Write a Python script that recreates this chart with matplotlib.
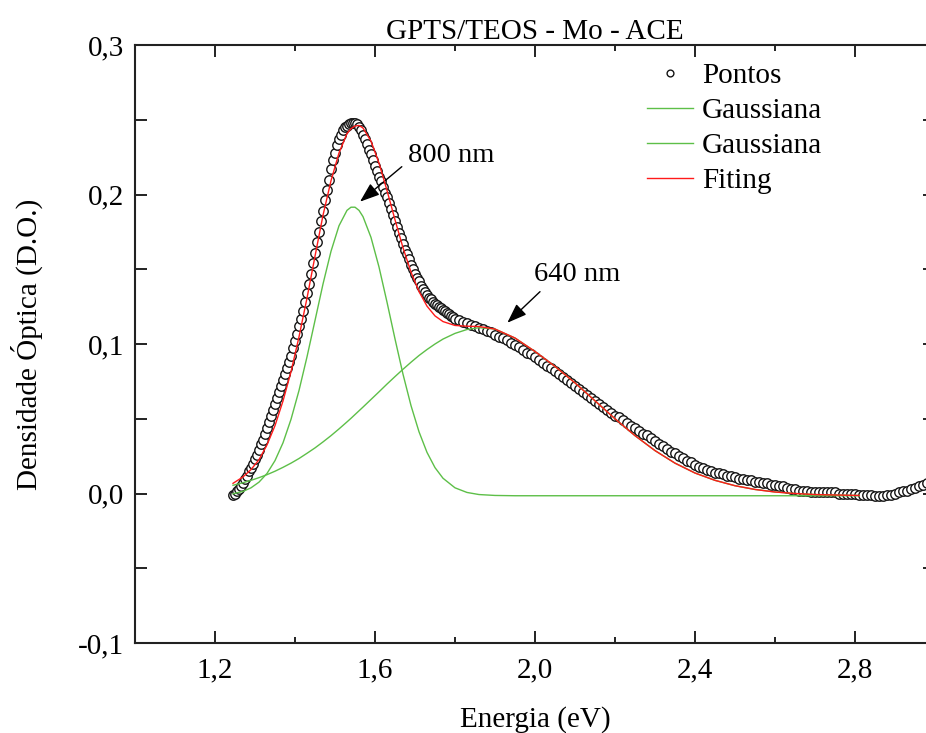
import matplotlib
matplotlib.use("Agg")
import matplotlib.pyplot as plt
import numpy as np
from matplotlib.ticker import MultipleLocator, FuncFormatter

# --- measured optical density (open circles) ---
# dense part of the spectrum, 1.245 .. 1.800 eV every 0.005 eV
energy_peak = np.round(np.arange(1.245, 1.8001, 0.005), 3)
do_peak = [
    -0.001, 0.000, 0.002, 0.003, 0.005, 0.007, 0.010, 0.012, 0.015, 0.017,
    0.020, 0.023, 0.026, 0.029, 0.033, 0.036, 0.040, 0.044, 0.048, 0.052,
    0.056, 0.060, 0.064, 0.068, 0.072, 0.076, 0.080, 0.084, 0.088, 0.092,
    0.097, 0.102, 0.107, 0.112, 0.117, 0.122, 0.128, 0.134, 0.140, 0.147,
    0.154, 0.161, 0.168, 0.175, 0.182, 0.189, 0.196, 0.203, 0.210, 0.217,
    0.223, 0.228, 0.233, 0.237, 0.240, 0.243, 0.245, 0.246, 0.247, 0.248,
    0.248, 0.248, 0.247, 0.245, 0.243, 0.240, 0.237, 0.234, 0.230, 0.227,
    0.223, 0.219, 0.216, 0.212, 0.209, 0.205, 0.201, 0.198, 0.194, 0.190,
    0.186, 0.182, 0.178, 0.174, 0.171, 0.167, 0.163, 0.160, 0.157, 0.153,
    0.150, 0.147, 0.144, 0.142, 0.139, 0.137, 0.135, 0.133, 0.131, 0.130,
    0.128, 0.127, 0.126, 0.125, 0.124, 0.123, 0.122, 0.121, 0.120, 0.119,
    0.118, 0.117,
]
# shoulder and tail, 1.81 .. 2.99 eV every 0.01 eV
energy_tail = np.round(np.arange(1.81, 2.9901, 0.01), 2)
do_tail = [
    0.116, 0.115, 0.114, 0.113, 0.112, 0.111, 0.110, 0.109, 0.108, 0.106,
    0.105, 0.104, 0.103, 0.101, 0.099, 0.098, 0.096, 0.094, 0.093, 0.091,
    0.089, 0.087, 0.085, 0.084, 0.082, 0.080, 0.078, 0.076, 0.074, 0.072,
    0.070, 0.068, 0.066, 0.064, 0.062, 0.060, 0.058, 0.056, 0.054, 0.052,
    0.051, 0.049, 0.047, 0.045, 0.044, 0.042, 0.040, 0.039, 0.037, 0.035,
    0.033, 0.032, 0.030, 0.028, 0.027, 0.025, 0.024, 0.022, 0.021, 0.019,
    0.018, 0.017, 0.016, 0.015, 0.014, 0.014, 0.013, 0.012, 0.012, 0.011,
    0.010, 0.010, 0.009, 0.009, 0.008, 0.008, 0.007, 0.007, 0.006, 0.006,
    0.005, 0.005, 0.004, 0.003, 0.003, 0.002, 0.002, 0.002, 0.001, 0.001,
    0.001, 0.001, 0.001, 0.001, 0.001, 0.000, 0.000, 0.000, 0.000, 0.000,
    -0.001, -0.001, -0.001, -0.001, -0.002, -0.002, -0.002, -0.001, -0.001, 0.000,
    0.001, 0.002, 0.002, 0.003, 0.004, 0.005, 0.006, 0.007, 0.008,
]

# --- fitted curves ---
fit_energy = [
    1.245, 1.27, 1.29, 1.31, 1.33, 1.35, 1.37, 1.39, 1.41, 1.43,
    1.45, 1.47, 1.49, 1.51, 1.53, 1.54, 1.55, 1.56, 1.57, 1.59,
    1.61, 1.63, 1.65, 1.67, 1.69, 1.71, 1.73, 1.75, 1.77, 1.80,
    1.83, 1.86, 1.90, 1.95, 2.00, 2.05, 2.10, 2.15, 2.20, 2.25,
    2.30, 2.35, 2.40, 2.45, 2.50, 2.55, 2.60, 2.65, 2.70, 2.75,
    2.81,
]
gauss_800 = [
    -0.0002, 0.0014, 0.0038, 0.0076, 0.0134, 0.0220, 0.0339, 0.0496, 0.0689, 0.0914,
    0.1157, 0.1401, 0.1620, 0.1791, 0.1894, 0.1915, 0.1915, 0.1894, 0.1852, 0.1713,
    0.1515, 0.1280, 0.1034, 0.0798, 0.0588, 0.0413, 0.0275, 0.0173, 0.0102, 0.0038,
    0.0007, -0.0007, -0.0013, -0.0015, -0.0015, -0.0015, -0.0015, -0.0015, -0.0015, -0.0015,
    -0.0015, -0.0015, -0.0015, -0.0015, -0.0015, -0.0015, -0.0015, -0.0015, -0.0015, -0.0015,
    -0.0015,
]
gauss_640 = [
    0.0055, 0.0072, 0.0088, 0.0106, 0.0126, 0.0149, 0.0175, 0.0203, 0.0234, 0.0269,
    0.0305, 0.0345, 0.0387, 0.0432, 0.0479, 0.0503, 0.0528, 0.0553, 0.0578, 0.0629,
    0.0680, 0.0732, 0.0782, 0.0831, 0.0878, 0.0923, 0.0963, 0.1000, 0.1033, 0.1071,
    0.1097, 0.1109, 0.1100, 0.1040, 0.0950, 0.0850, 0.0740, 0.0620, 0.0500, 0.0387,
    0.0287, 0.0203, 0.0137, 0.0088, 0.0052, 0.0027, 0.0010, 0.0000, -0.0007, -0.0010,
    -0.0013,
]
fitting = [
    0.0068, 0.0111, 0.0160, 0.0226, 0.0325, 0.0454, 0.0619, 0.0814, 0.1048, 0.1307,
    0.1587, 0.1861, 0.2092, 0.2278, 0.2408, 0.2440, 0.2458, 0.2462, 0.2445, 0.2357,
    0.2210, 0.2027, 0.1831, 0.1644, 0.1481, 0.1351, 0.1253, 0.1188, 0.1150, 0.1124,
    0.1119, 0.1117, 0.1100, 0.1040, 0.0950, 0.0850, 0.0740, 0.0620, 0.0500, 0.0387,
    0.0287, 0.0203, 0.0137, 0.0088, 0.0052, 0.0027, 0.0010, 0.0000, -0.0007, -0.0010,
    -0.0013,
]

GREEN = "#5dbf48"
RED = "#ff1a1a"
FONT_SIZE = 21


def comma_fmt(v, _pos):
    """Portuguese decimal comma, one decimal."""
    if abs(v) < 1e-9:
        v = 0.0
    return f"{v:.1f}".replace(".", ",")


def plot_spectrum():
    plt.rcParams["font.family"] = ["Liberation Serif", "DejaVu Serif"]

    fig = plt.figure(figsize=(9.26, 7.33), dpi=100)
    # right spine sits just past the picture edge, like the original export
    ax = fig.add_axes([135 / 926, 90 / 733, 800 / 926, 598 / 733])

    energy = np.concatenate([energy_peak, energy_tail])
    density = np.array(do_peak + do_tail)

    ax.plot(energy, density, linestyle="none", marker="o", markersize=6.8,
            markerfacecolor="white", markeredgecolor="#151515",
            markeredgewidth=1.0, label="Pontos", zorder=2)
    ax.plot(fit_energy, gauss_800, color=GREEN, lw=1.0, label="Gaussiana", zorder=3)
    ax.plot(fit_energy, gauss_640, color=GREEN, lw=1.0, label="Gaussiana", zorder=3)
    ax.plot(fit_energy, fitting, color=RED, lw=1.0, label="Fiting", zorder=4)

    ax.set_xlim(1.0, 3.0)
    ax.set_ylim(-0.1, 0.3)
    ax.xaxis.set_major_locator(MultipleLocator(0.4))
    ax.xaxis.set_minor_locator(MultipleLocator(0.2))
    ax.yaxis.set_major_locator(MultipleLocator(0.1))
    ax.yaxis.set_minor_locator(MultipleLocator(0.05))
    ax.xaxis.set_major_formatter(FuncFormatter(comma_fmt))
    ax.yaxis.set_major_formatter(FuncFormatter(comma_fmt))

    ax.tick_params(which="both", direction="in", top=True, right=True,
                   width=1.4, labelsize=FONT_SIZE, color="#222222")
    ax.tick_params(which="major", length=8.5)
    ax.tick_params(axis="y", which="major", pad=8)
    ax.tick_params(axis="x", which="major", pad=10.5)
    ax.tick_params(axis="x", which="minor", length=4.5)
    ax.tick_params(axis="y", which="minor", length=8.5)
    for sp in ax.spines.values():
        sp.set_linewidth(1.5)
        sp.set_color("#222222")

    ax.set_xlabel("Energia (eV)", fontsize=FONT_SIZE, labelpad=16)
    ax.set_ylabel("Densidade Óptica (D.O.)", fontsize=FONT_SIZE, labelpad=25)
    ax.set_title("GPTS/TEOS - Mo - ACE", fontsize=FONT_SIZE, pad=4)

    # peak labels with arrows
    arrow = dict(arrowstyle="-|>,head_length=0.6,head_width=0.22",
                 color="black", lw=1.0, mutation_scale=20,
                 shrinkA=0, shrinkB=0)
    ax.text(1.79, 0.2258, "800 nm", fontsize=20.5, ha="center", va="center")
    ax.annotate("", xy=(1.5625, 0.1952), xytext=(1.667, 0.2186), arrowprops=arrow)
    ax.text(2.106, 0.1468, "640 nm", fontsize=20.5, ha="center", va="center")
    ax.annotate("", xy=(1.9308, 0.1142), xytext=(2.0125, 0.135), arrowprops=arrow)

    ax.legend(loc="upper left", bbox_to_anchor=(0.64, 0.97), frameon=False,
              fontsize=FONT_SIZE, handlelength=1.58, handletextpad=0.3,
              labelspacing=0.29, borderpad=0, borderaxespad=0, markerscale=0.72)

    fig.savefig("out.png", dpi=100)


if __name__ == "__main__":
    plot_spectrum()
